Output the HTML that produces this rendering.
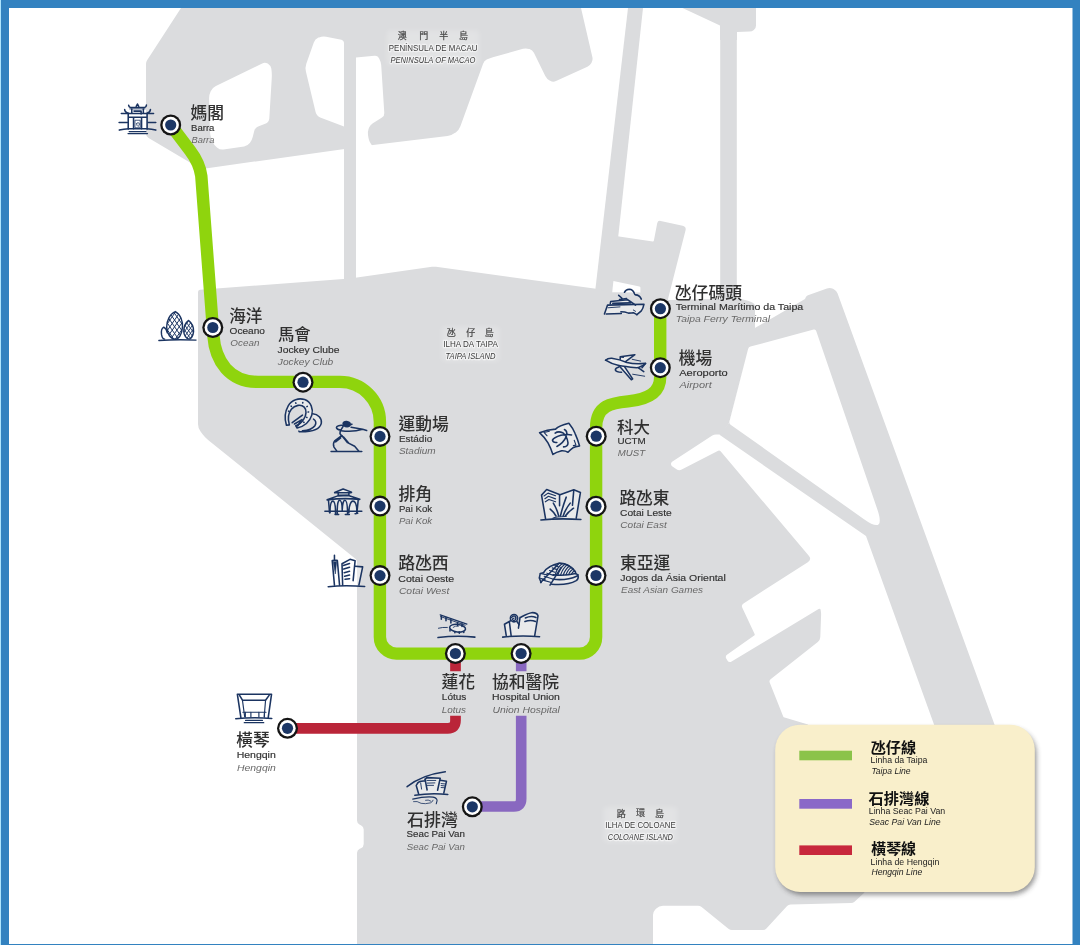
<!DOCTYPE html>
<html lang="zh-Hant"><head><meta charset="utf-8"><title>Macau LRT map</title>
<style>
html,body{margin:0;padding:0;background:#fff;}
body{width:1080px;height:945px;overflow:hidden;}
svg{display:block;font-family:"Liberation Sans","Noto Sans CJK TC",sans-serif;}
</style></head><body>
<svg width="1080" height="945" viewBox="0 0 1080 945">
<rect width="1080" height="945" fill="#fff"/>
<path d="M181.0,8.0L147.1,60.3Q146.0,62.0 146.0,64.0L146.0,133.5Q146.0,136.5 148.6,138.0L200.1,168.5Q201.0,169.0 202.0,168.9L373.0,145.0Q374.0,144.9 375.0,144.8L447.5,136.0Q451.5,135.5 454.7,133.1L455.8,132.4Q459.0,130.0 460.4,126.2L483.0,63.9Q484.0,61.0 486.7,59.6L487.3,59.3Q490.0,58.0 492.9,57.2L523.0,48.8Q526.0,48.0 529.0,48.9L529.5,49.1Q532.5,50.0 533.9,52.8L545.3,75.9Q546.8,78.8 549.6,80.5L550.2,80.8Q553.0,82.5 556.0,81.1L587.4,66.7Q590.0,65.5 591.4,63.0L591.6,62.5Q593.0,60.0 592.4,57.2L581.0,8.0Z" fill="#dbdcde"/>
<path d="M210.9,90.9Q212.5,87.5 215.9,85.9L262.2,63.4Q265.0,62.0 267.7,63.6L268.3,63.9Q271.0,65.5 271.3,68.6L271.6,71.0Q272.0,75.0 271.7,79.0L269.3,118.5Q269.0,122.5 265.2,123.8L258.8,126.2Q255.0,127.5 254.1,131.4L252.8,136.7Q252.0,140.0 250.0,142.7L249.5,143.3Q247.5,146.0 244.1,146.5L223.5,149.5Q220.0,150.0 217.3,147.7L216.7,147.3Q214.0,145.0 212.7,141.7L211.5,138.7Q210.0,135.0 209.9,131.0L209.1,98.8Q209.0,95.0 210.6,91.6Z" fill="#fff"/>
<path d="M313.8,42.5Q315.0,39.0 318.4,37.6L319.1,37.4Q322.5,36.0 326.1,36.7L341.4,39.8Q342.5,40.0 343.2,40.9L343.4,41.2Q344.0,42.0 344.0,43.0L344.0,126.5L320.2,117.4Q316.5,116.0 315.6,112.1L305.9,71.4Q305.0,67.5 306.3,63.7Z" fill="#fff"/>
<path d="M356.0,57.5L374.5,55.8Q377.5,55.5 378.9,58.1L379.6,59.4Q381.0,62.0 381.2,65.0L384.3,113.0Q384.5,116.0 382.0,117.6L372.5,123.4Q370.0,125.0 369.0,127.8L368.5,129.2Q367.5,132.0 368.0,135.0L368.5,138.0Q369.0,141.0 370.7,143.5L371.9,145.3Q373.0,147.0 373.0,149.0L373.0,153.0L356.0,153.0Z" fill="#fff"/>
<rect x="344" y="40" width="12" height="245" fill="#dbdcde"/>
<path d="M682.5,8.0L756.0,8.0L756.0,25.6Q756.0,28.0 754.2,29.6L753.8,29.9Q752.0,31.5 749.6,31.6L737.0,32.0L737.0,40.0L720.0,40.0L720.0,25.5Z" fill="#dbdcde"/>
<rect x="720.2" y="25" width="16.6" height="280" fill="#dbdcde"/>
<path d="M628.0,8.0L643.0,8.0L611.8,296.0L594.6,296.0Z" fill="#dbdcde"/>
<path d="M617.4,236.3L652.7,241.4Q653.7,241.5 653.9,240.5L657.2,223.2Q657.8,220.3 660.7,220.9L682.6,225.7Q686.5,226.5 685.5,230.4L667.5,301.0L640.4,301.0L640.4,287.7Q640.4,286.7 639.4,286.5L612.2,280.7Z" fill="#dbdcde"/>
<path d="M805.0,299.0L805.8,297.3Q806.5,295.8 808.0,295.3L826.9,288.4Q830.0,287.3 833.0,288.8L833.8,289.2Q836.5,290.5 837.5,293.3L996.5,730.0L936.0,730.0L866.0,536.0L719.5,434.8L729.0,423.0L748.0,347.0L754.0,328.6Z" fill="#dbdcde"/>
<path d="M198.0,292.0Q198.0,290.0 200.0,289.8L350.0,278.5L432.0,266.8Q434.0,266.5 436.0,266.8L596.0,288.8L611.5,292.2L640.0,292.5L669.0,300.0L737.0,298.5L743.0,299.5Q746.0,300.0 748.8,301.1L752.2,302.4Q755.0,303.5 755.0,306.5L755.0,328.3L748.6,347.1L729.5,421.6Q729.0,423.5 727.8,425.1L721.6,433.7Q721.0,434.5 720.0,434.5L716.0,434.5Q714.0,434.5 712.3,435.6L672.1,461.8Q671.0,462.5 671.0,463.9L671.0,464.1Q671.0,465.5 672.1,466.3L676.5,469.3Q679.0,471.0 681.7,469.6L717.7,450.9Q719.5,450.0 720.8,451.5L808.8,555.7Q812.0,559.5 807.8,562.2L743.5,603.4Q741.0,605.0 742.3,607.7L754.6,634.1Q755.0,635.0 754.2,635.6L727.3,654.6Q724.8,656.3 726.4,658.8L727.4,660.5Q729.0,663.0 731.6,661.5L818.6,609.0Q820.3,608.0 820.7,610.0L820.8,611.0Q821.2,613.0 821.1,615.0L820.3,637.0Q820.2,640.0 817.8,641.9L770.6,679.3Q769.0,680.5 769.7,682.4L783.2,716.4Q783.6,717.3 784.6,717.6L808.0,724.5L870.0,880.0L864.0,893.0L854.5,901.7Q853.0,903.0 851.0,903.0L790.5,904.5Q788.5,904.5 787.1,906.0L766.4,928.5Q765.0,930.0 763.0,930.0L732.0,930.0Q730.0,930.0 728.4,928.7L701.6,907.0Q700.0,905.7 698.0,905.7L663.0,905.7Q659.0,905.7 656.3,908.6L655.1,909.8Q653.0,912.0 653.0,915.0L653.0,946.0L357.0,946.0L357.0,853.0Q357.0,850.0 359.7,848.8L361.0,848.2Q363.7,847.0 363.7,844.0L363.7,829.5Q363.7,826.5 360.9,825.3L359.8,824.8Q357.0,823.6 357.0,820.6L357.0,562.0Q357.0,560.0 355.4,558.7L208.1,440.0Q205.0,437.5 202.6,434.3L200.4,431.2Q198.0,428.0 198.0,424.0Z" fill="#dbdcde"/>
<path d="M748.1,349.0Q748.6,347.1 750.5,346.6L813.7,329.5Q815.6,329.0 816.2,330.9L877.3,509.3Q886.0,534.8 864.0,519.2L730.6,424.7Q729.0,423.5 729.5,421.6Z" fill="#fff"/>
<path d="M170.7,125 L190,150.5 Q199.5,163 201.3,176 L212.8,327.5 L213.3,335 C215.3,362 230,381.9 258,381.9 L339.9,381.9 A40,40 0 0 1 379.9,421.9 L379.9,637 A16.6,16.6 0 0 0 396.5,653.6 L579.4,653.6 A16.6,16.6 0 0 0 596.1,637 L596.1,428 C596.1,405 612,403 628,401.4 C648,399.4 660.2,393 660.2,377 L660.2,308" fill="none" stroke="#8fd40d" stroke-width="12.4" stroke-linejoin="round"/>
<path d="M455.5,653.6 V671.2 M455.5,715.7 V720.6 Q455.5,728.3 447.8,728.3 L287.5,728.3" fill="none" stroke="#ba2539" stroke-width="10.7"/>
<path d="M521.2,653.6 V671.2 M521.2,715.7 V798.8 Q521.2,806.5 513.9,806.5 L472.6,806.5" fill="none" stroke="#8968c0" stroke-width="10.6"/>
<g transform="translate(114,98) scale(.044444)" fill="none" stroke="#1b3461" stroke-width="35" stroke-linecap="round" stroke-linejoin="round"><g fill="#fff" fill-opacity=".4" stroke="none"><path d="M320,350 H745 V700 H320 Z M400,250 H660 V345 H400 Z"/></g>
<path d="M500,190 L528,135 L556,190"/>
<path d="M330,165 Q335,205 370,215 L690,215 Q725,205 730,160"/>
<path d="M355,245 L700,245" stroke-width="19"/>
<path d="M400,250 V340 M660,250 V340 M450,295 H610 V360"/>
<path d="M240,260 Q240,320 330,345 M820,260 Q820,320 740,345 M165,350 H890"/>
<path d="M320,350 V700 M745,350 V700 M320,435 H745 M440,435 V690 M620,435 V690"/>
<path d="M480,500 H590 V670 H480 Z M510,570 Q540,535 570,570 Q580,620 540,640 Q500,620 510,570" stroke-width="18"/>
<path d="M115,550 H300 M770,550 H940"/>
<path d="M120,722 Q220,695 330,692 H740 Q850,695 940,722"/>
<path d="M340,755 H720 M315,800 H755" stroke-width="26"/>
</g>
<defs><clipPath id="egg1"><path d="M480,170 C600,230 650,400 640,520 C630,680 560,790 480,790 C380,790 290,680 285,520 C280,380 360,220 480,170 Z"/></clipPath><clipPath id="egg2"><path d="M780,370 C860,430 895,520 890,620 C880,720 830,790 790,790 C730,790 670,700 670,620 C670,520 710,420 780,370 Z"/></clipPath></defs>
<g transform="translate(154,304) scale(.044444)" fill="none" stroke="#1b3461" stroke-width="32" stroke-linecap="round" stroke-linejoin="round">
<path d="M-45,790 L385,170 M970,790 L540,170 M60,790 L490,170 M865,790 L435,170 M165,790 L595,170 M760,790 L330,170 M270,790 L700,170 M655,790 L225,170 M375,790 L805,170 M550,790 L120,170 M480,790 L910,170 M445,790 L15,170 M585,790 L1015,170 M340,790 L-90,170" clip-path="url(#egg1)" stroke-width="22"/>
<path d="M410,790 L700,370 M1150,790 L860,370 M490,790 L780,370 M1070,790 L780,370 M570,790 L860,370 M990,790 L700,370 M650,790 L940,370 M910,790 L620,370 M730,790 L1020,370 M830,790 L540,370 M810,790 L1100,370 M750,790 L460,370 M890,790 L1180,370 M670,790 L380,370" clip-path="url(#egg2)" stroke-width="20"/>
<path d="M480,170 C600,230 650,400 640,520 C630,680 560,790 480,790 C380,790 290,680 285,520 C280,380 360,220 480,170 Z"/>
<path d="M780,370 C860,430 895,520 890,620 C880,720 830,790 790,790 C730,790 670,700 670,620 C670,520 710,420 780,370 Z"/>
<path d="M240,790 C210,790 180,750 170,690 C160,620 180,540 220,520 C260,540 290,600 300,650"/>
<path d="M110,822 Q500,790 945,812"/>
</g>
<g transform="translate(278,392) scale(.044444)" fill="none" stroke="#1b3461" stroke-width="35" stroke-linecap="round" stroke-linejoin="round"><g fill="#fff" fill-opacity=".4" stroke="none"><path d="M190,750 C150,620 150,450 230,310 C310,170 470,130 600,170 C740,220 800,380 760,520 C720,650 600,770 430,810 L400,760 C460,740 530,690 580,610 C640,520 650,400 590,340 C520,270 380,290 300,390 C230,480 220,620 255,740 Z"/><path d="M780,490 C900,500 990,590 975,700 C950,830 760,900 480,895 L550,870 C660,865 780,830 830,760 C870,700 850,640 800,610 Z"/></g>
<path d="M190,750 C150,620 150,450 230,310 C310,170 470,130 600,170 C740,220 800,380 760,520 C720,650 600,770 430,810 L400,760 C460,740 530,690 580,610 C640,520 650,400 590,340 C520,270 380,290 300,390 C230,480 220,620 255,740 Z"/>
<path d="M295,318 l8,8 M398,243 l6,10 M558,238 l-3,10 M660,322 l-10,6 M690,450 l-12,2 M652,575 l-10,-4 M585,685 l-8,-6 M235,430 l8,4" stroke-width="35"/>
<path d="M320,690 L550,520 M370,720 L540,620 M440,765 L520,650"/>
<path d="M780,490 C900,500 990,590 975,700 C950,830 760,900 480,895 L470,880 M800,610 C850,640 870,700 830,760 C780,830 660,865 550,870"/>
</g>
<g transform="translate(324,416) scale(.044444)" fill="none" stroke="#1b3461" stroke-width="35" stroke-linecap="round" stroke-linejoin="round">
<path d="M430,170 Q440,120 510,125 Q580,135 590,178 L628,186 L590,200 Q580,240 520,240 Q440,235 430,170 Z" fill="#1b3461"/>
<path d="M440,215 C360,200 280,220 280,260 C285,300 340,310 380,320"/>
<path d="M430,232 L365,340 L360,400 L400,450"/>
<path d="M380,330 C520,350 740,340 870,300 L960,325 M610,255 L870,300"/>
<path d="M390,450 L240,560 Q195,620 225,700 L285,785 M375,495 L262,582"/>
<path d="M400,440 L530,600 L690,680 L780,785 M440,475 L560,612"/>
<path d="M160,800 H850"/>
</g>
<g transform="translate(320,482) scale(.044444)" fill="none" stroke="#1b3461" stroke-width="35" stroke-linecap="round" stroke-linejoin="round"><g fill="#fff" fill-opacity=".4" stroke="none"><path d="M330,238 L520,158 L710,228 L650,240 V300 L895,388 L860,400 L830,690 H215 L190,400 L160,400 L400,312 L410,300 V240 Z"/></g>
<path d="M330,238 L520,158 L710,228 M335,240 H700"/>
<path d="M410,240 V300 M650,238 V298 M410,300 H650"/>
<path d="M160,400 L400,312 L640,302 L895,388 M160,405 Q520,350 895,392"/>
<path d="M190,400 L215,690 M860,400 L830,700"/>
<path d="M225,690 C225,500 250,430 290,430 C330,430 350,500 350,720 M390,720 C380,500 410,410 440,410 C480,410 500,500 500,650 C500,500 530,410 560,410 C600,410 620,500 620,720 M650,690 C650,520 700,430 740,430 C790,430 830,520 830,690"/>
<path d="M110,660 H940"/>
<path d="M340,730 H420 M570,730 H660 M790,712 L850,702"/>
</g>
<g transform="translate(322,550) scale(.044444)" fill="none" stroke="#1b3461" stroke-width="35" stroke-linecap="round" stroke-linejoin="round"><g fill="#fff" fill-opacity=".4" stroke="none"><path d="M230,240 L340,235 L395,790 H280 Z M450,310 L630,210 L745,240 L745,365 L915,380 L830,790 H465 Z"/></g>
<path d="M280,120 V225 M230,238 L340,232 M230,240 L280,790 M345,235 L395,790"/>
<path d="M252,262 L300,540 L330,262 Z" fill="#1b3461" stroke-width="12"/>
<path d="M450,310 L465,790 M450,310 L630,210 L745,240 L700,690"/>
<path d="M480,350 L620,305 M490,430 L620,390 M500,510 L620,480 M510,590 L620,565 M520,660 L620,645"/>
<path d="M745,365 L915,380 L830,790"/>
<path d="M140,825 Q500,785 960,820"/>
</g>
<g transform="translate(430,606) scale(.044444)" fill="none" stroke="#1b3461" stroke-width="35" stroke-linecap="round" stroke-linejoin="round"><g fill="#fff" fill-opacity=".4" stroke="none"><ellipse cx="620" cy="500" rx="180" ry="85"/></g>
<path d="M230,198 L830,408" stroke-width="28"/><path d="M240,238 L790,432" stroke-width="21"/>
<path d="M255,220 V300 M360,260 V330 M470,300 V380 M620,370 V440 M720,400 V460"/>
<ellipse cx="620" cy="500" rx="180" ry="85" transform="rotate(7 620 500)"/>
<path d="M450,535 V560 M560,578 V602 M660,588 V612 M760,572 V597"/>
<path d="M520,480 Q560,440 640,452" stroke-width="19"/>
<path d="M190,500 Q280,475 390,482" stroke-width="21"/>
<path d="M180,710 Q600,660 1010,700"/>
</g>
<g transform="translate(496,602) scale(.044444)" fill="none" stroke="#1b3461" stroke-width="35" stroke-linecap="round" stroke-linejoin="round"><g fill="#fff" fill-opacity=".4" stroke="none"><path d="M230,750 L190,500 L300,440 C310,380 330,300 360,260 C420,260 480,300 490,360 L500,500 L505,590 L540,350 C620,310 720,250 800,240 C870,235 930,260 945,310 L870,760 Z"/></g>
<path d="M230,750 L190,500 L300,440 L340,750"/>
<path d="M300,440 L335,415 M470,440 L520,510"/><circle cx="405" cy="365" r="82"/>
<path d="M350,350 Q380,300 430,320 Q465,360 430,405 Q390,430 370,395 Q370,365 405,362" stroke-width="31"/>
<path d="M505,590 L540,350 C620,310 720,250 800,240 C870,235 930,260 945,310 L870,760"/>
<path d="M660,360 Q790,300 900,350 M650,440 Q780,390 890,440"/>
<path d="M150,790 Q550,745 980,780"/>
</g>
<g transform="translate(402,766) scale(.044444)" fill="none" stroke="#1b3461" stroke-width="35" stroke-linecap="round" stroke-linejoin="round"><g fill="#fff" fill-opacity=".4" stroke="none"><path d="M375,630 L320,440 Q350,370 400,350 L520,330 L520,300 L560,262 L860,275 L860,320 L1000,345 L940,610 Z"/></g>
<path d="M115,465 Q450,200 975,130"/>
<path d="M375,630 L320,440 Q350,370 400,350 L520,330 M520,300 L565,540"/>
<path d="M520,300 L560,262 L860,275 L800,545"/>
<path d="M560,325 H760 M570,385 L740,380 M570,435 H710 M420,380 L440,520" stroke-width="21"/>
<path d="M860,320 L1000,345 L940,610"/>
<path d="M880,395 L980,405 M880,440 L970,450 M880,485 L960,490" stroke-width="21"/>
<path d="M290,660 Q640,600 1030,640"/>
<path d="M240,745 Q520,680 700,700 Q790,720 790,780 L770,850" stroke-width="24"/>
<path d="M260,800 Q340,780 430,840 Q520,860 640,830 Q700,800 700,770 M530,770 Q590,750 650,790" stroke-width="18"/>
</g>
<g transform="translate(230,686) scale(.044444)" fill="none" stroke="#1b3461" stroke-width="35" stroke-linecap="round" stroke-linejoin="round">
<path d="M245,710 L165,185 H935 L860,710"/>
<path d="M215,210 L280,320 H800 L880,210"/>
<path d="M280,320 L330,690 M800,320 L770,690 M290,590 H810" stroke-width="26"/>
<path d="M345,590 V700 M470,590 V700 M650,590 V700 M775,590 V700" stroke-width="26"/>
<path d="M130,735 Q530,695 940,730"/>
<path d="M350,775 H730 M320,825 H760" stroke-width="26"/>
</g>
<g transform="translate(600,282) scale(.044444)" fill="none" stroke="#1b3461" stroke-width="35" stroke-linecap="round" stroke-linejoin="round"><g fill="#fff" fill-opacity=".4" stroke="none"><path d="M100,720 L170,520 L230,490 L240,440 L620,400 Q700,450 800,520 L990,500 Q970,600 930,650 L830,735 L480,710 Z"/></g>
<path d="M550,232 Q580,170 660,165 Q740,170 770,250 Q780,290 800,290 Q890,290 930,385"/>
<path d="M420,300 L490,360 M440,395 L600,372"/>
<path d="M230,490 L240,440 L620,400 Q700,450 800,520"/>
<path d="M100,720 L170,520 L990,500 Q970,600 930,650 L830,735"/>
<path d="M290,480 L690,468" stroke-width="40"/>
<path d="M140,722 L480,710 M470,670 Q560,670 640,700 Q720,700 750,690 L830,735"/>
<path d="M180,580 L450,560 M750,630 L800,660" stroke-width="21"/>
</g>
<g transform="translate(602,346) scale(.044444)" fill="none" stroke="#1b3461" stroke-width="35" stroke-linecap="round" stroke-linejoin="round"><g fill="#fff" fill-opacity=".4" stroke="none"><path d="M80,320 Q130,270 220,275 Q400,300 410,300 V240 L740,195 L530,350 Q750,420 980,390 Q860,480 780,490 Q600,480 510,470 L690,740 L660,760 L380,440 Q200,400 80,320 Z"/></g>
<path d="M80,320 Q130,270 220,275 Q400,300 560,370 Q750,420 980,390 L900,490"/>
<path d="M80,320 Q200,400 380,440 Q500,465 780,490 Q860,480 980,395"/>
<path d="M820,490 L940,575"/>
<path d="M410,300 V240 L740,195 L530,350 M410,240 L480,252"/>
<path d="M380,440 L660,760 L690,740 L510,470"/>
<path d="M380,470 Q300,490 300,540 Q320,590 440,590"/>
<path d="M680,300 L870,340 M690,635 L960,680" stroke-width="21"/>
</g>
<g transform="translate(536,418) scale(.044444)" fill="none" stroke="#1b3461" stroke-width="35" stroke-linecap="round" stroke-linejoin="round"><g fill="#fff" fill-opacity=".4" stroke="none"><path d="M80,330 Q250,260 440,250 Q520,170 740,120 Q830,230 880,350 Q940,480 980,630 Q880,640 830,670 Q770,710 720,770 Q650,730 560,740 Q460,760 380,820 Q340,690 270,560 Q200,440 80,330 Z"/></g>
<path d="M80,330 Q250,260 440,250 Q520,170 740,120 Q830,230 880,350 Q940,480 980,630 Q880,640 830,670 Q770,710 720,770 Q650,730 560,740 Q460,760 380,820 Q340,690 270,560 Q200,440 80,330 Z"/>
<path d="M180,328 L300,300 M190,335 L250,400 M860,500 L900,610 L840,622" stroke-width="24"/>
<path d="M430,340 Q500,290 600,330 Q700,400 720,560 Q720,640 620,650 M800,380 Q700,360 560,390 Q400,440 370,500 Q380,560 470,550 M640,260 Q720,300 680,420 Q620,560 470,640"/>
</g>
<g transform="translate(536,484) scale(.044444)" fill="none" stroke="#1b3461" stroke-width="35" stroke-linecap="round" stroke-linejoin="round"><g fill="#fff" fill-opacity=".4" stroke="none"><path d="M215,780 L125,250 L240,125 L540,240 L850,130 L1000,190 L905,770 Z"/></g>
<path d="M215,780 L125,250 L240,125 L540,240 L850,130 L1000,190 L905,770"/>
<path d="M530,240 V490 M850,140 L820,480"/>
<path d="M180,270 L270,205 L440,265 M200,330 L280,275 L440,335 M210,400 L290,350 L440,400" stroke-width="26"/>
<path d="M390,430 Q480,580 510,720 M320,565 Q400,630 450,720 M680,295 Q590,540 550,720 M770,430 Q660,570 610,720 M845,545 Q720,630 660,720"/>
<path d="M380,770 Q440,730 680,732" stroke-width="24"/>
<path d="M110,810 Q550,765 1010,800"/>
</g>
<g transform="translate(534,554) scale(.044444)" fill="none" stroke="#1b3461" stroke-width="35" stroke-linecap="round" stroke-linejoin="round"><g fill="#fff" fill-opacity=".4" stroke="none"><path d="M215,420 Q300,270 580,205 Q800,220 930,400 L940,440 L990,470 Q1010,560 950,600 Q760,710 400,680 L160,640 L120,540 L140,440 Z"/></g>
<path d="M215,420 Q300,270 580,205 Q800,220 930,400 L940,440"/>
<path d="M430,470 Q700,500 940,440 L990,470 M430,570 Q750,600 960,500 L990,470 M400,680 Q760,710 950,600 Q1010,560 990,470" />
<path d="M215,420 L140,440 L120,540 L160,640"/>
<path d="M560,215 L150,640 M610,300 L360,700" />
<path d="M470,262 L560,292 M410,312 L520,352 M350,372 L470,412 M290,432 L440,482 M230,502 L420,562 M180,582 L390,642 M140,440 L300,470 M120,540 L250,575" stroke-width="26"/>
<path d="M480,460 Q520,300 640,215 M540,465 Q590,310 700,225 M600,468 Q650,320 750,240 M660,468 Q710,330 800,270 M720,466 Q770,340 850,300 M780,460 Q820,360 890,340 M840,455 Q870,390 920,380" stroke-width="26"/>
</g>
<circle cx="170.7" cy="125" r="10.5" fill="#151515"/><circle cx="170.7" cy="125" r="8.2" fill="#fff"/><circle cx="170.7" cy="125" r="5.6" fill="#1c3766"/>
<circle cx="212.8" cy="327.5" r="10.5" fill="#151515"/><circle cx="212.8" cy="327.5" r="8.2" fill="#fff"/><circle cx="212.8" cy="327.5" r="5.6" fill="#1c3766"/>
<circle cx="303" cy="382.2" r="10.5" fill="#151515"/><circle cx="303" cy="382.2" r="8.2" fill="#fff"/><circle cx="303" cy="382.2" r="5.6" fill="#1c3766"/>
<circle cx="380" cy="436.4" r="10.5" fill="#151515"/><circle cx="380" cy="436.4" r="8.2" fill="#fff"/><circle cx="380" cy="436.4" r="5.6" fill="#1c3766"/>
<circle cx="380" cy="506.1" r="10.5" fill="#151515"/><circle cx="380" cy="506.1" r="8.2" fill="#fff"/><circle cx="380" cy="506.1" r="5.6" fill="#1c3766"/>
<circle cx="380" cy="575.6" r="10.5" fill="#151515"/><circle cx="380" cy="575.6" r="8.2" fill="#fff"/><circle cx="380" cy="575.6" r="5.6" fill="#1c3766"/>
<circle cx="455.4" cy="653.5" r="10.5" fill="#151515"/><circle cx="455.4" cy="653.5" r="8.2" fill="#fff"/><circle cx="455.4" cy="653.5" r="5.6" fill="#1c3766"/>
<circle cx="521.1" cy="653.5" r="10.5" fill="#151515"/><circle cx="521.1" cy="653.5" r="8.2" fill="#fff"/><circle cx="521.1" cy="653.5" r="5.6" fill="#1c3766"/>
<circle cx="596" cy="575.5" r="10.5" fill="#151515"/><circle cx="596" cy="575.5" r="8.2" fill="#fff"/><circle cx="596" cy="575.5" r="5.6" fill="#1c3766"/>
<circle cx="596" cy="506.2" r="10.5" fill="#151515"/><circle cx="596" cy="506.2" r="8.2" fill="#fff"/><circle cx="596" cy="506.2" r="5.6" fill="#1c3766"/>
<circle cx="596.2" cy="436.2" r="10.5" fill="#151515"/><circle cx="596.2" cy="436.2" r="8.2" fill="#fff"/><circle cx="596.2" cy="436.2" r="5.6" fill="#1c3766"/>
<circle cx="660.3" cy="367.7" r="10.5" fill="#151515"/><circle cx="660.3" cy="367.7" r="8.2" fill="#fff"/><circle cx="660.3" cy="367.7" r="5.6" fill="#1c3766"/>
<circle cx="660.4" cy="308.7" r="10.5" fill="#151515"/><circle cx="660.4" cy="308.7" r="8.2" fill="#fff"/><circle cx="660.4" cy="308.7" r="5.6" fill="#1c3766"/>
<circle cx="287.5" cy="728.3" r="10.5" fill="#151515"/><circle cx="287.5" cy="728.3" r="8.2" fill="#fff"/><circle cx="287.5" cy="728.3" r="5.6" fill="#1c3766"/>
<circle cx="472.3" cy="806.8" r="10.5" fill="#151515"/><circle cx="472.3" cy="806.8" r="8.2" fill="#fff"/><circle cx="472.3" cy="806.8" r="5.6" fill="#1c3766"/>
<g opacity=".999">
<text x="190.55" y="119.02" font-size="16.77" font-weight="500" fill="#303030">媽閣</text>
<text x="191.0" y="130.8" font-size="9.00" fill="#303030" stroke="#303030" stroke-width="0.15" textLength="23.4" lengthAdjust="spacingAndGlyphs">Barra</text>
<text x="191.4" y="143.2" font-size="9.00" fill="#686868" font-style="italic" textLength="23.0" lengthAdjust="spacingAndGlyphs">Barra</text>
<text x="229.25" y="321.56" font-size="16.57" font-weight="500" fill="#303030">海洋</text>
<text x="229.6" y="334.0" font-size="9.00" fill="#303030" stroke="#303030" stroke-width="0.15" textLength="35.4" lengthAdjust="spacingAndGlyphs">Oceano</text>
<text x="230.3" y="346.3" font-size="9.00" fill="#686868" font-style="italic" textLength="29.1" lengthAdjust="spacingAndGlyphs">Ocean</text>
<text x="278.01" y="340.31" font-size="16.38" font-weight="500" fill="#303030">馬會</text>
<text x="277.5" y="352.8" font-size="9.00" fill="#303030" stroke="#303030" stroke-width="0.15" textLength="62.1" lengthAdjust="spacingAndGlyphs">Jockey Clube</text>
<text x="277.8" y="364.6" font-size="9.00" fill="#686868" font-style="italic" textLength="55.5" lengthAdjust="spacingAndGlyphs">Jockey Club</text>
<text x="398.46" y="430.01" font-size="16.74" font-weight="500" fill="#303030">運動場</text>
<text x="398.9" y="441.9" font-size="9.00" fill="#303030" stroke="#303030" stroke-width="0.15" textLength="33.3" lengthAdjust="spacingAndGlyphs">Estádio</text>
<text x="398.9" y="454.1" font-size="9.00" fill="#686868" font-style="italic" textLength="36.8" lengthAdjust="spacingAndGlyphs">Stadium</text>
<text x="398.48" y="500.31" font-size="16.88" font-weight="500" fill="#303030">排角</text>
<text x="398.9" y="511.6" font-size="9.00" fill="#303030" stroke="#303030" stroke-width="0.15" textLength="33.3" lengthAdjust="spacingAndGlyphs">Pai Kok</text>
<text x="398.9" y="524.0" font-size="9.00" fill="#686868" font-style="italic" textLength="33.3" lengthAdjust="spacingAndGlyphs">Pai Kok</text>
<text x="398.14" y="569.24" font-size="16.87" font-weight="500" fill="#303030">路氹西</text>
<text x="398.3" y="581.7" font-size="9.00" fill="#303030" stroke="#303030" stroke-width="0.15" textLength="55.9" lengthAdjust="spacingAndGlyphs">Cotai Oeste</text>
<text x="398.9" y="593.7" font-size="9.00" fill="#686868" font-style="italic" textLength="50.5" lengthAdjust="spacingAndGlyphs">Cotai West</text>
<text x="441.41" y="688.24" font-size="16.8" font-weight="500" fill="#303030">蓮花</text>
<text x="441.8" y="700.0" font-size="9.00" fill="#303030" stroke="#303030" stroke-width="0.15" textLength="24.6" lengthAdjust="spacingAndGlyphs">Lótus</text>
<text x="441.8" y="712.5" font-size="9.00" fill="#686868" font-style="italic" textLength="24.3" lengthAdjust="spacingAndGlyphs">Lotus</text>
<text x="491.90" y="688.27" font-size="16.77" font-weight="500" fill="#303030">協和醫院</text>
<text x="492.1" y="700.0" font-size="9.00" fill="#303030" stroke="#303030" stroke-width="0.15" textLength="67.8" lengthAdjust="spacingAndGlyphs">Hospital Union</text>
<text x="492.5" y="712.5" font-size="9.00" fill="#686868" font-style="italic" textLength="67.4" lengthAdjust="spacingAndGlyphs">Union Hospital</text>
<text x="407.06" y="826.17" font-size="17.02" font-weight="500" fill="#303030">石排灣</text>
<text x="406.5" y="837.3" font-size="9.00" fill="#303030" stroke="#303030" stroke-width="0.15" textLength="58.5" lengthAdjust="spacingAndGlyphs">Seac Pai Van</text>
<text x="406.8" y="849.5" font-size="9.00" fill="#686868" font-style="italic" textLength="58.2" lengthAdjust="spacingAndGlyphs">Seac Pai Van</text>
<text x="236.33" y="745.77" font-size="16.63" font-weight="500" fill="#303030">橫琴</text>
<text x="236.7" y="758.0" font-size="9.00" fill="#303030" stroke="#303030" stroke-width="0.15" textLength="39.1" lengthAdjust="spacingAndGlyphs">Hengqin</text>
<text x="237.0" y="770.5" font-size="9.00" fill="#686868" font-style="italic" textLength="38.8" lengthAdjust="spacingAndGlyphs">Hengqin</text>
<text x="674.84" y="298.70" font-size="16.79" font-weight="500" fill="#303030">氹仔碼頭</text>
<text x="675.8" y="310.3" font-size="9.00" fill="#303030" stroke="#303030" stroke-width="0.15" textLength="127.5" lengthAdjust="spacingAndGlyphs">Terminal Marítimo da Taipa</text>
<text x="675.8" y="322.0" font-size="9.00" fill="#686868" font-style="italic" textLength="94.2" lengthAdjust="spacingAndGlyphs">Taipa Ferry Terminal</text>
<text x="678.83" y="363.89" font-size="16.78" font-weight="500" fill="#303030">機場</text>
<text x="679.2" y="375.8" font-size="9.00" fill="#303030" stroke="#303030" stroke-width="0.15" textLength="48.6" lengthAdjust="spacingAndGlyphs">Aeroporto</text>
<text x="679.4" y="387.9" font-size="9.00" fill="#686868" font-style="italic" textLength="32.4" lengthAdjust="spacingAndGlyphs">Airport</text>
<text x="616.99" y="432.72" font-size="16.46" font-weight="500" fill="#303030">科大</text>
<text x="617.4" y="444.2" font-size="9.00" fill="#303030" stroke="#303030" stroke-width="0.15" textLength="28.4" lengthAdjust="spacingAndGlyphs">UCTM</text>
<text x="617.8" y="456.0" font-size="9.00" fill="#686868" font-style="italic" textLength="27.3" lengthAdjust="spacingAndGlyphs">MUST</text>
<text x="619.45" y="503.94" font-size="16.66" font-weight="500" fill="#303030">路氹東</text>
<text x="620.0" y="515.8" font-size="9.00" fill="#303030" stroke="#303030" stroke-width="0.15" textLength="51.7" lengthAdjust="spacingAndGlyphs">Cotai Leste</text>
<text x="620.3" y="527.7" font-size="9.00" fill="#686868" font-style="italic" textLength="46.5" lengthAdjust="spacingAndGlyphs">Cotai East</text>
<text x="620.00" y="569.12" font-size="16.8" font-weight="500" fill="#303030">東亞運</text>
<text x="620.3" y="580.5" font-size="9.00" fill="#303030" stroke="#303030" stroke-width="0.15" textLength="105.5" lengthAdjust="spacingAndGlyphs">Jogos da Ásia Oriental</text>
<text x="621.0" y="592.7" font-size="9.00" fill="#686868" font-style="italic" textLength="81.9" lengthAdjust="spacingAndGlyphs">East Asian Games</text>
<rect x="386.8" y="30.0" width="92.7" height="35.5" rx="4" fill="#fff" opacity=".2" filter="url(#glow)"/>
<text x="397.69" y="39.42" font-size="9" fill="#484848" stroke="#484848" stroke-width="0.22">澳</text>
<text x="419.22" y="39.21" font-size="9" fill="#484848" stroke="#484848" stroke-width="0.22">門</text>
<text x="439.25" y="39.43" font-size="9" fill="#484848" stroke="#484848" stroke-width="0.22">半</text>
<text x="459.06" y="39.43" font-size="9" fill="#484848" stroke="#484848" stroke-width="0.22">島</text>
<text x="388.8" y="51.0" font-size="8.6" fill="#3c3c3c" textLength="88.7" lengthAdjust="spacingAndGlyphs" stroke="#fff" stroke-opacity=".5" stroke-width="2.6" stroke-linejoin="round" paint-order="stroke">PENÍNSULA DE MACAU</text>
<text x="390.5" y="62.5" font-size="8.6" fill="#3c3c3c" font-style="italic" textLength="85.0" lengthAdjust="spacingAndGlyphs" stroke="#fff" stroke-opacity=".5" stroke-width="2.6" stroke-linejoin="round" paint-order="stroke">PENINSULA OF MACAO</text>
<rect x="441.3" y="326.5" width="58.7" height="35.0" rx="4" fill="#fff" opacity=".2" filter="url(#glow)"/>
<text x="446.87" y="335.74" font-size="9" fill="#484848" stroke="#484848" stroke-width="0.22">氹</text>
<text x="466.18" y="335.67" font-size="9" fill="#484848" stroke="#484848" stroke-width="0.22">仔</text>
<text x="484.71" y="335.68" font-size="9" fill="#484848" stroke="#484848" stroke-width="0.22">島</text>
<text x="443.3" y="347.3" font-size="8.6" fill="#3c3c3c" textLength="54.7" lengthAdjust="spacingAndGlyphs" stroke="#fff" stroke-opacity=".5" stroke-width="2.6" stroke-linejoin="round" paint-order="stroke">ILHA DA TAIPA</text>
<text x="445.5" y="358.5" font-size="8.6" fill="#3c3c3c" font-style="italic" textLength="50.0" lengthAdjust="spacingAndGlyphs" stroke="#fff" stroke-opacity=".5" stroke-width="2.6" stroke-linejoin="round" paint-order="stroke">TAIPA ISLAND</text>
<rect x="603.3" y="806.8" width="74.3" height="35.8" rx="4" fill="#fff" opacity=".2" filter="url(#glow)"/>
<text x="616.75" y="816.53" font-size="9" fill="#484848" stroke="#484848" stroke-width="0.22">路</text>
<text x="635.92" y="816.38" font-size="9" fill="#484848" stroke="#484848" stroke-width="0.22">環</text>
<text x="654.96" y="816.53" font-size="9" fill="#484848" stroke="#484848" stroke-width="0.22">島</text>
<text x="605.3" y="827.8" font-size="8.6" fill="#3c3c3c" textLength="70.3" lengthAdjust="spacingAndGlyphs" stroke="#fff" stroke-opacity=".5" stroke-width="2.6" stroke-linejoin="round" paint-order="stroke">ILHA DE COLOANE</text>
<text x="607.8" y="839.6" font-size="8.6" fill="#3c3c3c" font-style="italic" textLength="65.2" lengthAdjust="spacingAndGlyphs" stroke="#fff" stroke-opacity=".5" stroke-width="2.6" stroke-linejoin="round" paint-order="stroke">COLOANE ISLAND</text>
</g>
<defs><filter id="glow" x="-20%" y="-30%" width="140%" height="160%"><feGaussianBlur stdDeviation="2.5"/></filter></defs>
<defs><filter id="sh" x="-10%" y="-10%" width="120%" height="130%"><feGaussianBlur stdDeviation="2.4"/></filter></defs>
<rect x="777.5" y="728.5" width="259" height="166.5" rx="25" fill="#333" opacity=".5" filter="url(#sh)"/>
<rect x="775.2" y="724.7" width="259.6" height="167.3" rx="25" fill="#f9efcb"/>
<rect x="799.3" y="750.7" width="52.7" height="9.6" fill="#8bc34a"/>
<rect x="799.3" y="799" width="52.7" height="9.7" fill="#8a68c8"/>
<rect x="799.3" y="845.4" width="52.7" height="9.6" fill="#c8283c"/>
<g opacity=".999">
<text x="870.63" y="753.26" font-size="15.15" font-weight="700" fill="#111">氹仔線</text>
<text x="870.6" y="763.4" font-size="8.80" fill="#222" textLength="56.8" lengthAdjust="spacingAndGlyphs">Linha da Taipa</text>
<text x="871.4" y="773.6" font-size="8.80" fill="#222" font-style="italic" textLength="39.2" lengthAdjust="spacingAndGlyphs">Taipa Line</text>
<text x="868.60" y="804.20" font-size="15.24" font-weight="700" fill="#111">石排灣線</text>
<text x="868.8" y="814.3" font-size="8.80" fill="#222" textLength="76.4" lengthAdjust="spacingAndGlyphs">Linha Seac Pai Van</text>
<text x="869.3" y="824.5" font-size="8.80" fill="#222" font-style="italic" textLength="71.3" lengthAdjust="spacingAndGlyphs">Seac Pai Van Line</text>
<text x="871.19" y="854.46" font-size="14.96" font-weight="700" fill="#111">橫琴線</text>
<text x="870.6" y="864.7" font-size="8.80" fill="#222" textLength="68.7" lengthAdjust="spacingAndGlyphs">Linha de Hengqin</text>
<text x="871.4" y="874.9" font-size="8.80" fill="#222" font-style="italic" textLength="50.9" lengthAdjust="spacingAndGlyphs">Hengqin Line</text>
</g>
<path d="M0,0H1080V945H0Z M9,8V944H1072.5V8Z" fill="#3382c0" fill-rule="evenodd"/>
<rect x="0" y="0" width="1" height="945" fill="#aee4fd"/>
</svg>
</body></html>
